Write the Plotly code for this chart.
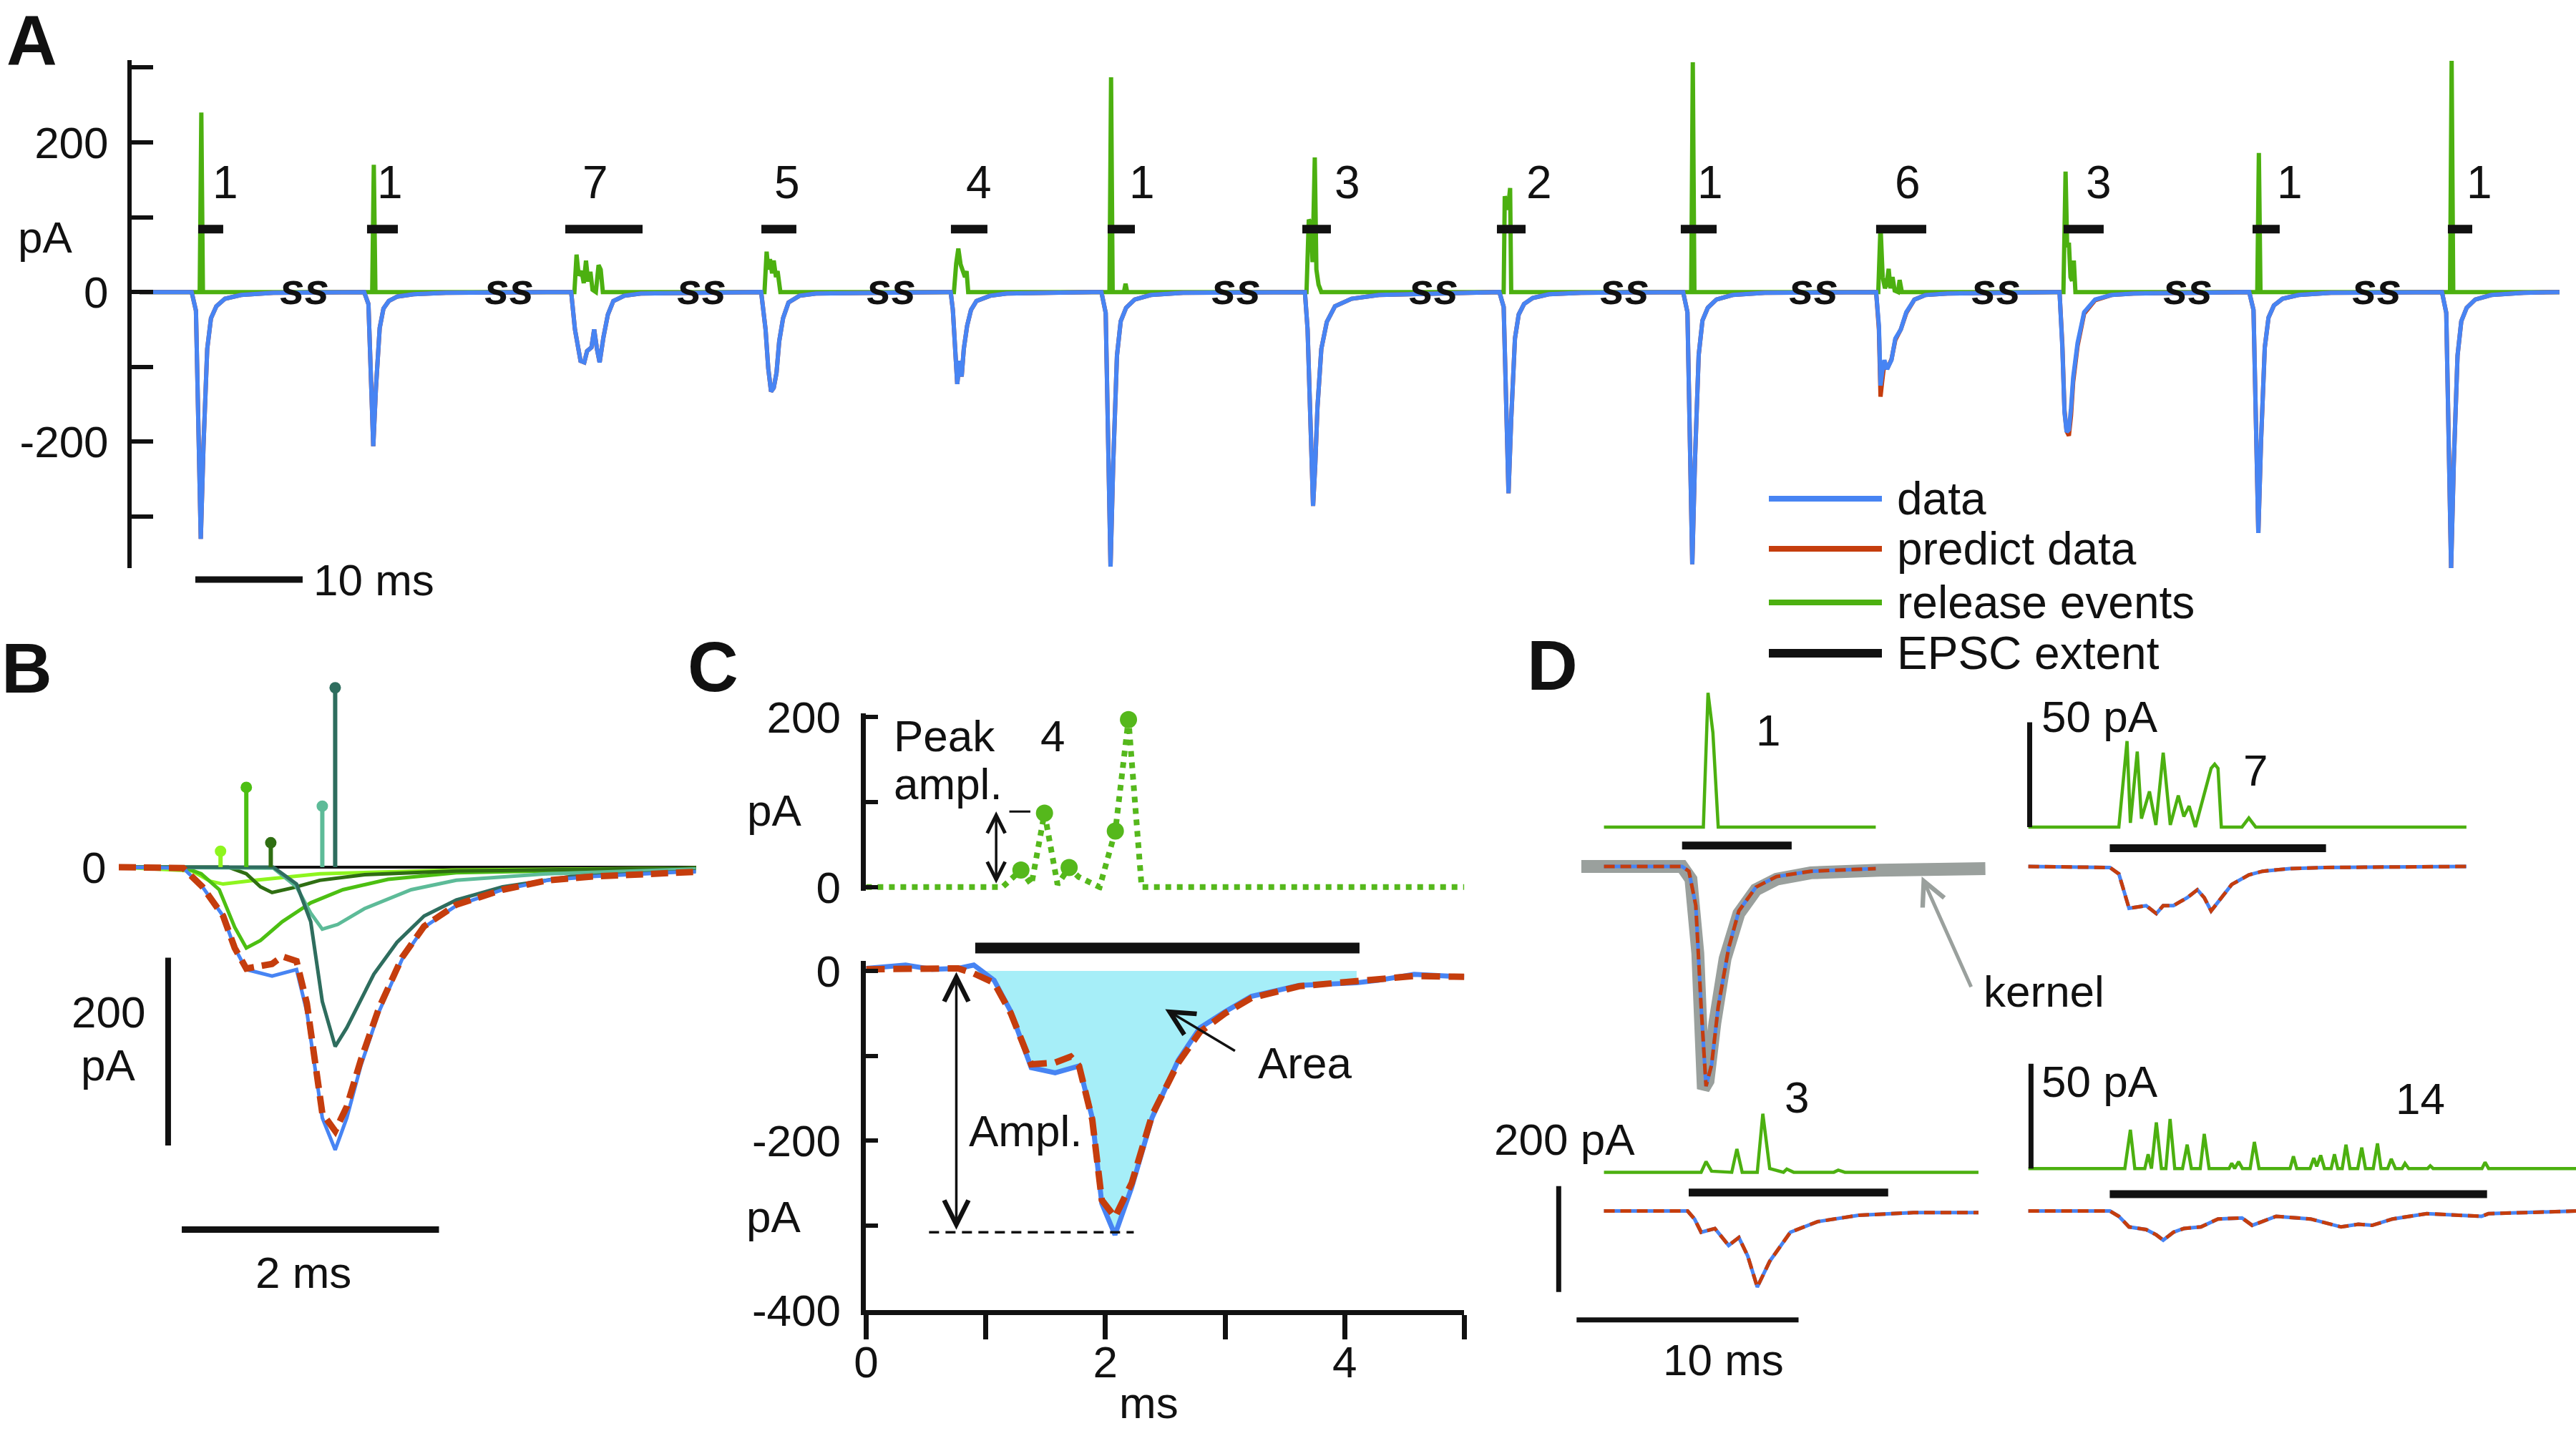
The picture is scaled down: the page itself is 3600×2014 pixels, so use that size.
import plotly.graph_objects as go

W, H = 3600, 2014
BLUE = "#4784f3"
RED = "#c53d0d"
GREEN = "#4cb010"
BLACK = "#111111"
FILL = "#a6eef8"
GRAY = "#9aa09d"
NARROW = "Liberation Sans Narrow, Arial Narrow, Liberation Sans, Arial, sans-serif"
REG = "Liberation Sans, Arial, Helvetica, sans-serif"

# ------------------------------------------------------------------ DATA
# Panel A : concatenated recording segments, time in ms, current in pA
a_t_start, a_t_end = 0.73, 226.2
a_onsets = [5.59, 21.66, 40.95, 58.65, 76.31, 90.35, 109.31, 127.43, 144.55, 162.53, 179.62, 197.29, 215.25]
a_counts = ["1", "1", "7", "5", "4", "1", "3", "2", "1", "6", "3", "1", "1"]
a_count_t = [8.73, 24.07, 43.2, 61.07, 78.93, 94.13, 113.27, 131.13, 147.07, 165.47, 183.27, 201.07, 218.73]
a_count_v = 146
a_ext_start = [6.2, 21.93, 40.4, 58.67, 76.33, 90.93, 109.07, 127.2, 144.33, 162.53, 180.0, 197.6, 215.8]
a_ext_end = [8.53, 24.8, 47.6, 61.93, 79.73, 93.47, 111.73, 129.87, 147.67, 167.2, 183.73, 200.13, 218.07]
a_ext_v = 84
a_breaks = [16.07, 35.2, 53.07, 70.8, 102.9, 121.27, 139.1, 156.7, 173.7, 191.6, 209.2]

a_single_dt = [-0.5, 0, 0.4, 0.65, 0.85, 1.1, 1.45, 1.8, 2.3, 3.1, 4.6, 7.6]
ev1_v = [0, 0, -25, -180, -330, -206, -76, -35, -19, -9, -4, -1]
ev2_v = [0, 0, -16, -112, -206, -128, -48, -22, -12, -6, -3, -1]
ev3_dt = [-0.5, 0, 0.35, 0.61, 0.87, 1.22, 1.48, 1.89, 2.14, 2.4, 2.65, 3.01, 3.42, 3.93, 4.95, 6.48]
ev3_v = [0, 0, -50, -76, -92, -94, -79, -74, -50, -76, -94, -60, -30, -12, -5, -2]
ev4_dt = [-0.5, 0, 0.41, 0.66, 0.92, 1.17, 1.43, 1.68, 2.04, 2.55, 3.57, 5.1]
ev4_v = [0, 0, -50, -102, -133, -128, -108, -66, -35, -14, -5, -2]
ev5_dt = [-0.5, 0, 0.2, 0.41, 0.61, 0.82, 1.02, 1.22, 1.53, 1.89, 2.4, 3.67, 5.2]
ev5_v = [0, 0, -24, -76, -123, -92, -113, -76, -45, -24, -12, -5, -2]
ev6_v = [0, 0, -28, -200, -367, -229, -85, -39, -21, -10, -4, -1]
ev7_dt = [-0.5, 0, 0.25, 0.41, 0.56, 0.76, 0.96, 1.17, 1.53, 2.04, 2.8, 4.34, 6.89]
ev7_v = [0, 0, -50, -128, -206, -286, -232, -154, -76, -40, -19, -9, -4]
ev8_v = [0, 0, -20, -150, -269, -170, -62, -30, -16, -8, -3, -1]
ev9_v = [0, 0, -27, -200, -364, -226, -84, -38, -21, -10, -4, -1]
ev10_dt = [-0.5, 0, 0.26, 0.41, 0.56, 0.77, 1.02, 1.43, 1.79, 2.3, 2.81, 3.57, 4.6, 6.64]
ev10_v = [0, 0, -45, -125, -108, -91, -103, -91, -62, -50, -27, -10, -4, -2]
ev10_pred = [0, 0, -50, -140, -120, -95, -103, -90, -64, -50, -28, -10, -4, -2]
ev11_dt = [-0.5, 0, 0.26, 0.46, 0.66, 0.87, 1.07, 1.27, 1.68, 2.29, 3.31, 4.84, 6.89]
ev11_v = [0, 0, -74, -161, -187, -184, -155, -114, -68, -27, -10, -4, -2]
ev11_pred = [0, 0, -70, -158, -186, -192, -165, -120, -72, -29, -11, -4, -2]
ev12_v = [0, 0, -24, -175, -322, -200, -74, -34, -18, -9, -4, -1]
ev13_v = [0, 0, -28, -205, -369, -229, -85, -39, -21, -10, -4, -1]

g_single_dt = [0.75, 0.9, 1.05]
g1_v = [0, 240, 0]
g2_v = [0, 170, 0]
g3_dt = [0.3, 0.5, 0.7, 0.97, 1.17, 1.38, 1.58, 1.79, 1.99, 2.3, 2.55, 2.75, 2.95]
g3_v = [0, 50, 22, 28, 12, 42, 14, 27, 3, 0, 36, 30, 0]
g4_dt = [0.31, 0.51, 0.66, 0.82, 1.02, 1.17, 1.38, 1.53, 1.79]
g4_v = [0, 54, 30, 44, 25, 42, 20, 28, 0]
g5_dt = [0.3, 0.51, 0.71, 0.92, 1.12, 1.33, 1.48, 1.63]
g5_v = [0, 38, 58, 37, 30, 20, 28, 0]
g6_dt = [0.75, 0.9, 1.05, 2.1, 2.25, 2.4]
g6_v = [0, 287, 0, 0, 11, 0]
g7_dt = [0.15, 0.36, 0.56, 0.71, 0.92, 1.07, 1.27, 1.53]
g7_v = [0, 97, 90, 40, 180, 30, 10, 0]
g8_dt = [0.4, 0.5, 0.8, 1.0, 1.1]
g8_v = [0, 128, 110, 139, 0]
g9_v = [0, 307, 0]
g10_dt = [0.2, 0.41, 0.61, 0.82, 0.97, 1.17, 1.33, 1.53, 1.73, 2.04, 2.19, 2.4]
g10_v = [0, 89, 20, 5, 10, 31, 5, 20, 2, 0, 16, 0]
g11_dt = [0.36, 0.56, 0.71, 0.87, 1.02, 1.17, 1.33, 1.48]
g11_v = [0, 161, 60, 66, 20, 15, 42, 0]
g12_v = [0, 186, 0]
g13_v = [0, 309, 0]

# Panel B : one EPSC decomposed in 5 release events
b_t_data = [0, 0.5, 0.65, 0.81, 0.9, 0.99, 1.19, 1.38, 1.46, 1.58, 1.68, 1.77, 1.88, 2.02, 2.2, 2.37, 2.62, 2.98, 3.33, 3.68, 4.39, 4.48]
b_v_data = [0, -1, -21, -52, -86, -109, -116, -109, -154, -267, -301, -267, -211, -154, -98, -64, -41, -24, -14, -10, -5, -5]
b_t_pred = [0, 0.5, 0.65, 0.81, 0.9, 0.99, 1.19, 1.27, 1.38, 1.46, 1.58, 1.68, 1.77, 1.88, 2.02, 2.2, 2.37, 2.62, 2.98, 3.33, 3.68, 4.39, 4.48]
b_v_pred = [0, -1, -21, -52, -86, -108, -103, -95, -100, -145, -262, -281, -255, -205, -150, -96, -63, -40, -24, -14, -10, -5, -5]
b_t_c1 = [0, 0.57, 0.71, 0.81, 1.06, 1.56, 2.62, 4.48]
b_v_c1 = [0, -4, -15, -18, -14, -7, -3, -1]
b_t_c2 = [0, 0.5, 0.64, 0.78, 0.9, 0.99, 1.1, 1.27, 1.49, 1.74, 2.09, 2.62, 3.68, 4.48]
b_v_c2 = [0, 0, -7, -24, -64, -86, -78, -58, -38, -24, -13, -6, -3, -1]
b_t_c3 = [0, 0.85, 0.99, 1.1, 1.19, 1.35, 1.56, 1.91, 2.62, 4.48]
b_v_c3 = [0, 0, -7, -21, -27, -22, -14, -8, -4, -1]
b_t_c4 = [0, 1.2, 1.38, 1.49, 1.58, 1.7, 1.91, 2.27, 2.62, 3.33, 4.48]
b_v_c4 = [0, -1, -21, -49, -66, -61, -44, -24, -14, -7, -2]
b_t_c5 = [0, 1.2, 1.38, 1.49, 1.58, 1.68, 1.77, 1.98, 2.16, 2.37, 2.62, 2.98, 3.51, 4.48]
b_v_c5 = [0, 0, -18, -58, -143, -191, -171, -114, -80, -52, -35, -21, -10, -4]
b_stem_t = [0.79, 0.99, 1.18, 1.58, 1.68]
b_stem_v = [17, 85, 26, 65, 191]
b_colors = ["#8ef51e", "#4cbf12", "#2f6e12", "#5dbb98", "#2e6d5e"]

# Panel C
c_t_rel = [0, 1.14, 1.294, 1.382, 1.491, 1.6, 1.697, 1.776, 1.952, 2.083, 2.193, 2.303, 5.0]
c_v_rel = [0, 0, 20, 3, 87, 3, 23, 12, 0, 66, 197, 0, 0]
c_peak_t = [1.294, 1.491, 1.697, 2.083, 2.193]
c_peak_v = [20, 87, 23, 66, 197]
c_t_data = [0, 0.33, 0.55, 0.77, 0.9, 1.07, 1.21, 1.38, 1.58, 1.78, 1.89, 1.97, 2.08, 2.22, 2.39, 2.61, 2.79, 3.0, 3.22, 3.62, 4.1, 4.28, 4.58, 5.0]
c_v_data = [3, 7, 2, 3, 7, -11, -48, -114, -120, -112, -173, -274, -311, -255, -173, -105, -67, -48, -30, -17, -14, -11, -4, -7]
c_t_pred = [0, 0.33, 0.55, 0.77, 0.9, 1.07, 1.21, 1.38, 1.58, 1.71, 1.78, 1.89, 1.97, 2.08, 2.22, 2.39, 2.61, 2.79, 3.0, 3.22, 3.62, 4.1, 4.58, 5.0]
c_v_pred = [2, 3, 2, 3, -3, -14, -50, -110, -108, -101, -112, -175, -270, -290, -250, -170, -108, -72, -50, -32, -18, -12, -6, -7]
c_ext = [0.912, 4.124]
c_ampl_t = 0.754
c_ampl_v = -308
c_ampl_dash = [0.526, 2.237]
c_peak_arrow_t = 1.087
c_peak_arrow_v = [3, 89]

# Panel D
d_tl_rel_t = [1.34, 5.82, 6.03, 6.25, 6.49, 13.59]
d_tl_rel_v = [0, 0, 64, 45, 0, 0]
d_tl_t = [1.34, 4.86, 5.17, 5.48, 5.72, 5.94, 6.19, 6.49, 6.96, 7.42, 8.19, 9.12, 10.66, 13.59]
d_tl_v = [0, 0, -9, -74, -265, -415, -375, -265, -154, -84, -39, -19, -9, -4]
d_kernel_t = [0.32, 4.86, 5.26, 5.57, 5.82, 6.03, 6.34, 6.8, 7.42, 8.19, 9.12, 10.66, 13.75, 18.53]
d_kernel_v = [0, 0, -24, -164, -420, -405, -295, -174, -89, -44, -24, -12, -7, -4]
d_tr_rel_t = [0.15, 4.23, 4.6, 4.75, 5.06, 5.25, 5.61, 5.9, 6.23, 6.55, 6.91, 7.16, 7.4, 7.68, 8.39, 8.55, 8.7, 8.85, 9.78, 10.09, 10.4, 19.9]
d_tr_rel_v = [0, 0, 41, 2, 36, 4, 17, 1, 35.5, 1, 15, 5, 10, 0, 28, 30, 28, 0, 0, 4.3, 0, 0]
d_tr_t = [0.15, 3.83, 4.23, 4.69, 5.15, 5.46, 5.92, 6.23, 6.69, 7.31, 7.77, 8.08, 8.39, 8.85, 9.32, 10.09, 10.71, 11.94, 13.48, 19.9]
d_tr_v = [0, -2, -14, -79, -76, -74, -89, -74, -74, -59, -44, -59, -84, -59, -34, -16, -9, -4, -2, 0]
d_bl_rel_t = [1.34, 5.72, 5.94, 6.19, 7.1, 7.33, 7.57, 8.25, 8.5, 8.81, 9.43, 9.58, 9.89, 11.7, 11.9, 12.2, 18.22]
d_bl_rel_v = [0, 0, 5.1, 0.5, 0, 11.1, 0, 0, 27.9, 1.8, 0, 1.5, 0, 0, 1, 0, 0]
d_bl_t = [1.34, 5.11, 5.42, 5.72, 6.34, 6.96, 7.42, 7.82, 8.25, 8.81, 9.74, 10.97, 12.82, 15.29, 18.22]
d_bl_v = [0, 0, -15, -40, -33, -65, -50, -85, -143.5, -95, -40, -20, -8, -3, -3]
d_br_rel_t = [0.15, 4.5, 4.75, 4.95, 5.4, 5.55, 5.7, 5.92, 6.15, 6.35, 6.54, 6.75, 7.1, 7.31, 7.5, 7.9, 8.08, 8.3,
              9.2, 9.32, 9.45, 9.63, 9.8, 10.15, 10.34, 10.55, 11.95, 12.1, 12.25, 12.85, 13.02, 13.15, 13.33, 13.5,
              13.8, 13.95, 14.1, 14.3, 14.47, 14.65, 15.0, 15.18, 15.35, 15.7, 15.89, 16.05, 16.35, 16.51, 16.7,
              17.0, 17.13, 17.3, 18.15, 18.27, 18.4, 20.6, 20.74, 20.9, 24.84]
d_br_rel_v = [0, 0, 18.5, 0, 0, 6.8, 0, 22, 0, 0, 23.6, 0, 0, 11.4, 0, 0, 16.5, 0,
              0, 2.5, 0, 3.3, 0, 0, 12.7, 0, 0, 5.8, 0, 0, 5, 1, 6.3, 0,
              0, 6.8, 0, 0, 11.4, 0, 0, 10, 0, 0, 12, 0, 0, 4.6, 0,
              0, 2.5, 0, 0, 1.3, 0, 0, 3, 0, 0]
d_br_t = [0.15, 3.83, 4.23, 4.69, 5.46, 5.92, 6.23, 6.69, 7.16, 7.93, 8.7, 9.78, 10.24, 10.71, 11.32, 12.87, 14.25, 15.03, 15.65, 16.57, 18.11, 20.58, 20.89, 24.84]
d_br_v = [0, 0, -10, -30, -35, -45, -55, -40, -33, -30, -15, -13, -27, -20, -10, -15, -30, -25, -27, -15, -5, -10, -5, 0]
d_ext_tl = [4.86, 9.8, 39.5]
d_ext_tr = [3.82, 13.57, 34.3]
d_ext_bl = [5.16, 14.15, 35.1]
d_ext_br = [3.82, 20.83, 32]

# scale bars
a_bar_ms = [5.93, 15.93]
b_bar_pa = [0.383, -96.4, -296.4]
b_bar_ms = [0.489, 2.486, -386]
d_bar_50a = [0.21, 0, 50]
d_bar_50b = [0.27, 0, 50]
d_bar_200 = [-0.7, 47, -153]
d_bar_10ms = [0.106, 10.11, -205.7]

# ------------------------------------------------------------------ helpers
def xdom(x0, x1):
    return [x0 / W, x1 / W]

def ydom(top, bot):
    return [1 - bot / H, 1 - top / H]

def py(y):
    return 1 - y / H

fig = go.Figure()

def line(x, y, xa, ya, color, width, dash=None, fill=None, fillcolor=None, mode="lines"):
    fig.add_trace(go.Scatter(x=x, y=y, xaxis=xa, yaxis=ya, mode=mode,
                             line=dict(color=color, width=width, dash=dash),
                             fill=fill, fillcolor=fillcolor,
                             hoverinfo="skip", showlegend=False))

def concat(dts, vals):
    xs, ys = [a_t_start], [0]
    for on, dt, v in zip(a_onsets, dts, vals):
        xs += [on + d for d in dt]
        ys += list(v)
    xs.append(a_t_end)
    ys.append(0)
    return xs, ys

S = a_single_dt
blue_dts = [S, S, ev3_dt, ev4_dt, ev5_dt, S, ev7_dt, S, S, ev10_dt, ev11_dt, S, S]
blue_vals = [ev1_v, ev2_v, ev3_v, ev4_v, ev5_v, ev6_v, ev7_v, ev8_v, ev9_v, ev10_v, ev11_v, ev12_v, ev13_v]
pred_vals = [ev1_v, ev2_v, ev3_v, ev4_v, ev5_v, ev6_v, ev7_v, ev8_v, ev9_v, ev10_pred, ev11_pred, ev12_v, ev13_v]
G = g_single_dt
green_dts = [G, G, g3_dt, g4_dt, g5_dt, g6_dt, g7_dt, g8_dt, G, g10_dt, g11_dt, G, G]
green_vals = [g1_v, g2_v, g3_v, g4_v, g5_v, g6_v, g7_v, g8_v, g9_v, g10_v, g11_v, g12_v, g13_v]

# ------------------------------------------------------------------ Panel A
gx, gy = concat(green_dts, green_vals)
line(gx, gy, "x", "y", GREEN, 6)
rx, ry = concat(blue_dts, pred_vals)
line(rx, ry, "x", "y", RED, 6)
bx, by = concat(blue_dts, blue_vals)
line(bx, by, "x", "y", BLUE, 6)
ex, ey = [], []
for s, e in zip(a_ext_start, a_ext_end):
    ex += [s, e, None]
    ey += [a_ext_v, a_ext_v, None]
line(ex, ey, "x", "y", BLACK, 12)

# ------------------------------------------------------------------ Panel B
line([0, 4.483], [0, 0], "x2", "y2", BLACK, 4)
for tt, vv, c in zip([b_t_c1, b_t_c2, b_t_c3, b_t_c4, b_t_c5],
                     [b_v_c1, b_v_c2, b_v_c3, b_v_c4, b_v_c5], b_colors):
    line(tt, vv, "x2", "y2", c, 5)
line(b_t_data, b_v_data, "x2", "y2", BLUE, 5)
line(b_t_pred, b_v_pred, "x2", "y2", RED, 9, dash="24px,11px")
for t, v, c in zip(b_stem_t, b_stem_v, b_colors):
    line([t, t], [0, v], "x2", "y2", c, 6)
fig.add_trace(go.Scatter(x=b_stem_t, y=b_stem_v, xaxis="x2", yaxis="y2", mode="markers",
                         marker=dict(color=b_colors, size=16), hoverinfo="skip",
                         showlegend=False, cliponaxis=False))

# ------------------------------------------------------------------ Panel C
line(c_t_rel, c_v_rel, "x3", "y3", "#55b81c", 8, dash="dot")
fig.add_trace(go.Scatter(x=c_peak_t, y=c_peak_v, xaxis="x3", yaxis="y3", mode="markers",
                         marker=dict(color="#55b81c", size=24), hoverinfo="skip",
                         showlegend=False, cliponaxis=False))
fill_pts = [(t, v) for t, v in zip(c_t_data, c_v_data) if c_ext[0] <= t <= c_ext[1]]
fx = [c_ext[0]] + [p[0] for p in fill_pts] + [fill_pts[-1][0], c_ext[0]]
fy = [0] + [p[1] for p in fill_pts] + [0, 0]
line(fx, fy, "x4", "y4", "rgba(0,0,0,0)", 0, fill="toself", fillcolor=FILL)
line(c_t_data, c_v_data, "x4", "y4", BLUE, 7)
line(c_t_pred, c_v_pred, "x4", "y4", RED, 9, dash="26px,12px")

# ------------------------------------------------------------------ Panel D
line(d_kernel_t, d_kernel_v, "x5", "y6", GRAY, 18)
line(d_tl_rel_t, d_tl_rel_v, "x5", "y5", GREEN, 4.5)
line(d_tl_t, d_tl_v, "x5", "y6", BLUE, 5)
line(d_tl_t, d_tl_v, "x5", "y6", RED, 5, dash="15px,8px")
line(d_tr_rel_t, d_tr_rel_v, "x6", "y5", GREEN, 4.5)
line(d_tr_t, d_tr_v, "x6", "y6", BLUE, 5)
line(d_tr_t, d_tr_v, "x6", "y6", RED, 5, dash="15px,8px")
line(d_bl_rel_t, d_bl_rel_v, "x5", "y7", GREEN, 4.5)
line(d_bl_t, d_bl_v, "x5", "y9", BLUE, 5)
line(d_bl_t, d_bl_v, "x5", "y9", RED, 5, dash="15px,8px")
line(d_br_rel_t, d_br_rel_v, "x6", "y8", GREEN, 4.5)
line(d_br_t, d_br_v, "x6", "y9", BLUE, 5)
line(d_br_t, d_br_v, "x6", "y9", RED, 5, dash="15px,8px")
for ext, xa, ya in [(d_ext_tl, "x5", "y6"), (d_ext_tr, "x6", "y6"), (d_ext_bl, "x5", "y9"), (d_ext_br, "x6", "y9")]:
    line([ext[0], ext[1]], [ext[2], ext[2]], xa, ya, BLACK, 11)

# ------------------------------------------------------------------ shapes
shapes = []
def seg(x0, y0, x1, y1, xref, yref, width, color=BLACK, dash=None):
    shapes.append(dict(type="line", x0=x0, y0=y0, x1=x1, y1=y1, xref=xref, yref=yref,
                       line=dict(color=color, width=width, dash=dash)))

seg(a_bar_ms[0], py(810), a_bar_ms[1], py(810), "x", "paper", 9)
seg(b_bar_pa[0], b_bar_pa[1], b_bar_pa[0], b_bar_pa[2], "x2", "y2", 8)
seg(b_bar_ms[0], b_bar_ms[2], b_bar_ms[1], b_bar_ms[2], "x2", "y2", 9)
seg(c_ext[0], py(1325), c_ext[1], py(1325), "x4", "paper", 15)
seg(c_ampl_dash[0], c_ampl_v, c_ampl_dash[1], c_ampl_v, "x4", "y4", 3.5, dash="14px,9px")
seg(1.197, 88.8, 1.373, 88.8, "x3", "y3", 3)
seg(d_bar_50a[0], d_bar_50a[1], d_bar_50a[0], d_bar_50a[2], "x6", "y5", 7)
seg(d_bar_50b[0], d_bar_50b[1], d_bar_50b[0], d_bar_50b[2], "x6", "y8", 7)
seg(d_bar_200[0], d_bar_200[1], d_bar_200[0], d_bar_200[2], "x5", "y9", 7)
seg(d_bar_10ms[0], d_bar_10ms[2], d_bar_10ms[1], d_bar_10ms[2], "x5", "y9", 7)
# legend keys
for yy, col, w in [(697, BLUE, 8), (767, RED, 8), (842, GREEN, 8), (913, BLACK, 12)]:
    seg(2472 / W, py(yy), 2630 / W, py(yy), "paper", "paper", w, color=col)

# ------------------------------------------------------------------ annotations
ann = []
def ptxt(text, x, y, size=62, family=NARROW, xanchor="center", color=BLACK):
    ann.append(dict(text=text, x=x / W, y=py(y), xref="paper", yref="paper", showarrow=False,
                    xanchor=xanchor, yanchor="middle", font=dict(family=family, size=size, color=color)))

for lab, x, y in [("A", 44, 56), ("B", 37, 934), ("C", 996, 932), ("D", 2169, 930)]:
    ptxt("<b>" + lab + "</b>", x, y, size=98, family=REG)
# A
ptxt("pA", 63, 331)
ptxt("10 ms", 436, 810, xanchor="left")
for t, c in zip(a_count_t, a_counts):
    ann.append(dict(text=c, x=t, y=a_count_v, xref="x", yref="y", showarrow=False,
                    font=dict(family=NARROW, size=64, color=BLACK)))
for t in a_breaks:
    ann.append(dict(text="<b><i>ss</i></b>", x=t, y=4, xref="x", yref="y", showarrow=False,
                    font=dict(family=NARROW, size=62, color=BLACK)))
for txt, yy in [("data", 697), ("predict data", 767), ("release events", 842), ("EPSC extent", 913)]:
    ptxt(txt, 2649, yy, size=64, xanchor="left")
# B
ptxt("0", 131, 1212, family=REG)
ptxt("200", 151, 1414, family=REG)
ptxt("pA", 151, 1488, family=REG)
ptxt("2 ms", 424, 1778, family=REG)
# C
ptxt("pA", 1082, 1132, family=REG)
ptxt("Peak", 1247, 1028, family=REG, xanchor="left")
ptxt("ampl.", 1247, 1095, family=REG, xanchor="left")
ptxt("4", 1471, 1028, family=REG)
ptxt("pA", 1081, 1700, family=REG)
ptxt("Ampl.", 1352, 1580, family=REG, xanchor="left")
ptxt("Area", 1823, 1485, family=REG)
ptxt("ms", 1605, 1960, family=REG)
# D
ptxt("1", 2471, 1021)
ptxt("7", 3152, 1076)
ptxt("3", 2511, 1533)
ptxt("14", 3382, 1535)
ptxt("50 pA", 2851, 1002, xanchor="left")
ptxt("50 pA", 2851, 1511, xanchor="left")
ptxt("200 pA", 2287, 1592, xanchor="right")
ptxt("10 ms", 2408, 1900)
ptxt("kernel", 2856, 1385)

def arrow(x, y, ax, ay, xref, yref, color=BLACK, width=3.5, size=1.9, both=False):
    d = dict(text="", x=x, y=y, ax=ax, ay=ay, xref=xref, yref=yref, axref=xref, ayref=yref,
             showarrow=True, arrowhead=5, arrowsize=size, arrowwidth=width, arrowcolor=color)
    if both:
        d.update(arrowside="end+start", startarrowhead=5, startarrowsize=size)
    ann.append(d)

arrow(c_ampl_t, -305, c_ampl_t, 0, "x4", "y4", both=True)
arrow(c_peak_arrow_t, c_peak_arrow_v[1], c_peak_arrow_t, c_peak_arrow_v[0], "x3", "y3", size=1.4, both=True)
arrow(2.5, -45, 3.092, -95, "x4", "y4")
arrow(15.66, -18.8, 17.91, -229.5, "x5", "y6", color=GRAY, width=5, size=1.3)

# ------------------------------------------------------------------ layout
hid = dict(visible=False, showgrid=False, zeroline=False)
tick_reg = dict(family=REG, size=62, color=BLACK)
fig.update_layout(
    width=W, height=H, margin=dict(l=0, r=0, t=0, b=0),
    paper_bgcolor="white", plot_bgcolor="rgba(0,0,0,0)", template="none",
    hovermode=False, showlegend=False,
    shapes=shapes, annotations=ann,
    xaxis=dict(domain=xdom(184, 3590), range=[0, 227.07], anchor="y", **hid),
    yaxis=dict(domain=ydom(84, 794), range=[-369, 310], anchor="x", showline=True, linewidth=6,
               linecolor=BLACK, ticks="inside", ticklen=30, tickwidth=6, tickcolor=BLACK,
               tickvals=[-300, -200, -100, 0, 100, 200, 300],
               ticktext=["", "-200", "", "0", "", "200", ""],
               tickfont=dict(family=NARROW, size=62, color=BLACK), ticklabelstandoff=14,
               showgrid=False, zeroline=False),
    xaxis2=dict(domain=xdom(166, 973), range=[0, 4.483], anchor="y2", **hid),
    yaxis2=dict(domain=ydom(940, 1800), range=[-448, 207.2], anchor="x2", **hid),
    xaxis3=dict(domain=xdom(1210.4, 2046.4), range=[0, 5], anchor="y3", **hid),
    yaxis3=dict(domain=ydom(997.4, 1244.6), range=[-4, 204], anchor="x3", showline=True,
                linewidth=7, linecolor=BLACK, ticks="inside", ticklen=17, tickwidth=6,
                tickcolor=BLACK, tickvals=[0, 100, 200], ticktext=["0", "", "200"],
                tickfont=tick_reg, ticklabelstandoff=16, showgrid=False, zeroline=False),
    xaxis4=dict(domain=xdom(1210.4, 2046.4), range=[0, 5], anchor="y4", showline=True,
                linewidth=7, linecolor=BLACK, ticks="outside", ticklen=34, tickwidth=7,
                tickcolor=BLACK, tickvals=[0, 1, 2, 3, 4, 5], ticktext=["0", "", "2", "", "4", ""],
                tickfont=tick_reg, ticklabelstandoff=-22, showgrid=False, zeroline=False),
    yaxis4=dict(domain=ydom(1342.8, 1831.4), range=[-400, 12], anchor="x4", showline=True,
                linewidth=7, linecolor=BLACK, ticks="inside", ticklen=17, tickwidth=6,
                tickcolor=BLACK, tickvals=[0, -100, -200, -300, -400],
                ticktext=["0", "", "-200", "", "-400"],
                tickfont=tick_reg, ticklabelstandoff=16, showgrid=False, zeroline=False),
    xaxis5=dict(domain=xdom(2170, 2800), range=[-0.968, 19.35], anchor="y6", **hid),
    xaxis6=dict(domain=xdom(2830, 3600), range=[0, 24.84], anchor="y6", **hid),
    yaxis5=dict(domain=ydom(950, 1160), range=[-1.4, 70.27], anchor="x5", **hid),
    yaxis6=dict(domain=ydom(1170, 1540), range=[-444.6, 55.4], anchor="x5", **hid),
    yaxis7=dict(domain=ydom(1480, 1648), range=[-3.28, 54.06], anchor="x5", **hid),
    yaxis8=dict(domain=ydom(1480, 1645), range=[-4.03, 52.29], anchor="x6", **hid),
    yaxis9=dict(domain=ydom(1650, 1850), range=[-212.7, 57.57], anchor="x5", **hid),
)

fig.write_html(
    "out.html",
    config={"displayModeBar": False},
    post_script="document.body.style.margin='0';document.body.style.overflow='hidden';"
                "document.documentElement.style.overflow='hidden';",
)
